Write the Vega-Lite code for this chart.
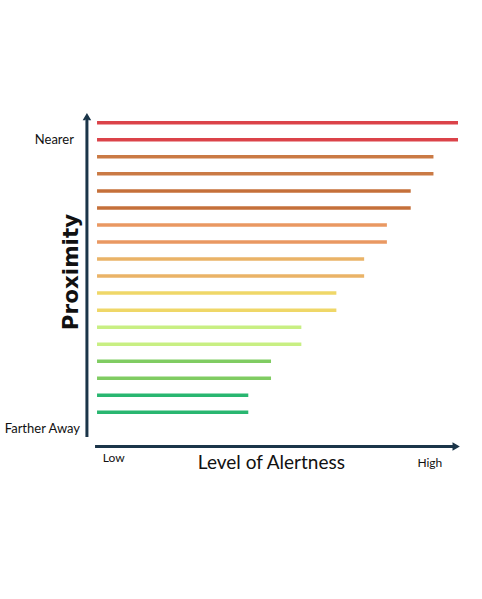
{
  "$schema": "https://vega.github.io/schema/vega-lite/v6.json",
  "autosize": {"type": "none"},
  "width": 371.8,
  "height": 357.7,
  "padding": {"left": 86.2, "top": 88.7, "right": 24, "bottom": 152.6},
  "background": "white",
  "config": {"view": {"stroke": null}},
  "datasets": {
    "lines": [
      {"row": 18, "level": "L9", "alertness": 100},
      {"row": 17, "level": "L9", "alertness": 100},
      {"row": 16, "level": "L8", "alertness": 93.2},
      {"row": 15, "level": "L8", "alertness": 93.2},
      {"row": 14, "level": "L7", "alertness": 86.9},
      {"row": 13, "level": "L7", "alertness": 86.9},
      {"row": 12, "level": "L6", "alertness": 80.3},
      {"row": 11, "level": "L6", "alertness": 80.3},
      {"row": 10, "level": "L5", "alertness": 74},
      {"row": 9, "level": "L5", "alertness": 74},
      {"row": 8, "level": "L4", "alertness": 66.3},
      {"row": 7, "level": "L4", "alertness": 66.3},
      {"row": 6, "level": "L3", "alertness": 56.6},
      {"row": 5, "level": "L3", "alertness": 56.6},
      {"row": 4, "level": "L2", "alertness": 48.2},
      {"row": 3, "level": "L2", "alertness": 48.2},
      {"row": 2, "level": "L1", "alertness": 41.9},
      {"row": 1, "level": "L1", "alertness": 41.9}
    ],
    "one": [{"k": 1}]
  },
  "layer": [
    {
      "data": {"name": "lines"},
      "mark": {"type": "bar", "orient": "horizontal", "height": 3.5, "opacity": 0.95},
      "encoding": {
        "x": {"field": "alertness", "type": "quantitative", "scale": {"domain": [-3, 100], "nice": false, "zero": false, "padding": 0}, "axis": null},
        "y": {"field": "row", "type": "quantitative", "scale": {"domain": [-1, 20], "nice": false, "zero": false, "padding": 0}, "axis": null},
        "color": {
          "field": "level", "type": "nominal", "legend": null,
          "scale": {
            "domain": ["L9", "L8", "L7", "L6", "L5", "L4", "L3", "L2", "L1"],
            "range": ["#d9393f", "#c7733b", "#c2682f", "#e8925a", "#e9af5f", "#eed560", "#c5ee7c", "#79c95a", "#1db268"]
          }
        }
      }
    },
    {
      "data": {"name": "one"},
      "mark": {"type": "rule", "color": "#1b3549", "strokeWidth": 3},
      "encoding": {
        "x": {"datum": -2.8, "type": "quantitative"},
        "y": {"datum": -0.45, "type": "quantitative"},
        "y2": {"datum": 18.4, "type": "quantitative"}
      }
    },
    {
      "data": {"name": "one"},
      "mark": {"type": "rule", "color": "#1b3549", "strokeWidth": 3},
      "encoding": {
        "y": {"datum": -1, "type": "quantitative"},
        "x": {"datum": -0.55, "type": "quantitative"},
        "x2": {"datum": 99.4, "type": "quantitative"}
      }
    },
    {
      "data": {"name": "one"},
      "mark": {"type": "point", "filled": true, "color": "#1b3549", "opacity": 1, "size": 90,
        "shape": "M0,-1 L0.9,0.55 L0.35,0.55 L0,-0.1 L-0.35,0.55 L-0.9,0.55 Z"},
      "encoding": {
        "x": {"datum": -2.8, "type": "quantitative"},
        "y": {"datum": 18.3, "type": "quantitative"}
      }
    },
    {
      "data": {"name": "one"},
      "mark": {"type": "point", "filled": true, "color": "#1b3549", "opacity": 1, "size": 90,
        "shape": "M1,0 L-0.55,0.9 L-0.55,0.35 L0.1,0 L-0.55,-0.35 L-0.55,-0.9 Z"},
      "encoding": {
        "x": {"datum": 99.2, "type": "quantitative"},
        "y": {"datum": -1, "type": "quantitative"}
      }
    },
    {
      "data": {"name": "one"},
      "mark": {"type": "text", "text": "Nearer", "align": "right", "baseline": "middle", "font": "Lato", "fontSize": 13, "color": "#111111"},
      "encoding": {"x": {"datum": -6.4, "type": "quantitative"}, "y": {"datum": 17, "type": "quantitative"}}
    },
    {
      "data": {"name": "one"},
      "mark": {"type": "text", "text": "Farther Away", "align": "right", "baseline": "middle", "font": "Lato", "fontSize": 13, "color": "#111111"},
      "encoding": {"x": {"datum": -4.7, "type": "quantitative"}, "y": {"datum": 0, "type": "quantitative"}}
    },
    {
      "data": {"name": "one"},
      "mark": {"type": "text", "text": "Proximity", "align": "center", "baseline": "middle", "angle": 270, "font": "DejaVu Sans", "fontWeight": "bold", "fontSize": 21.5, "color": "#111111"},
      "encoding": {"x": {"datum": -6.8, "type": "quantitative"}, "y": {"datum": 9.24, "type": "quantitative"}}
    },
    {
      "data": {"name": "one"},
      "mark": {"type": "text", "text": "Low", "align": "left", "baseline": "middle", "font": "Lato", "fontSize": 12, "color": "#111111"},
      "encoding": {"x": {"datum": 1.6, "type": "quantitative"}, "y": {"datum": -1.68, "type": "quantitative"}}
    },
    {
      "data": {"name": "one"},
      "mark": {"type": "text", "text": "High", "align": "center", "baseline": "middle", "font": "Lato", "fontSize": 12, "color": "#111111"},
      "encoding": {"x": {"datum": 92.2, "type": "quantitative"}, "y": {"datum": -1.97, "type": "quantitative"}}
    },
    {
      "data": {"name": "one"},
      "mark": {"type": "text", "text": "Level of Alertness", "align": "center", "baseline": "middle", "font": "Lato", "fontSize": 19, "color": "#111111"},
      "encoding": {"x": {"datum": 48.3, "type": "quantitative"}, "y": {"datum": -1.97, "type": "quantitative"}}
    }
  ]
}
